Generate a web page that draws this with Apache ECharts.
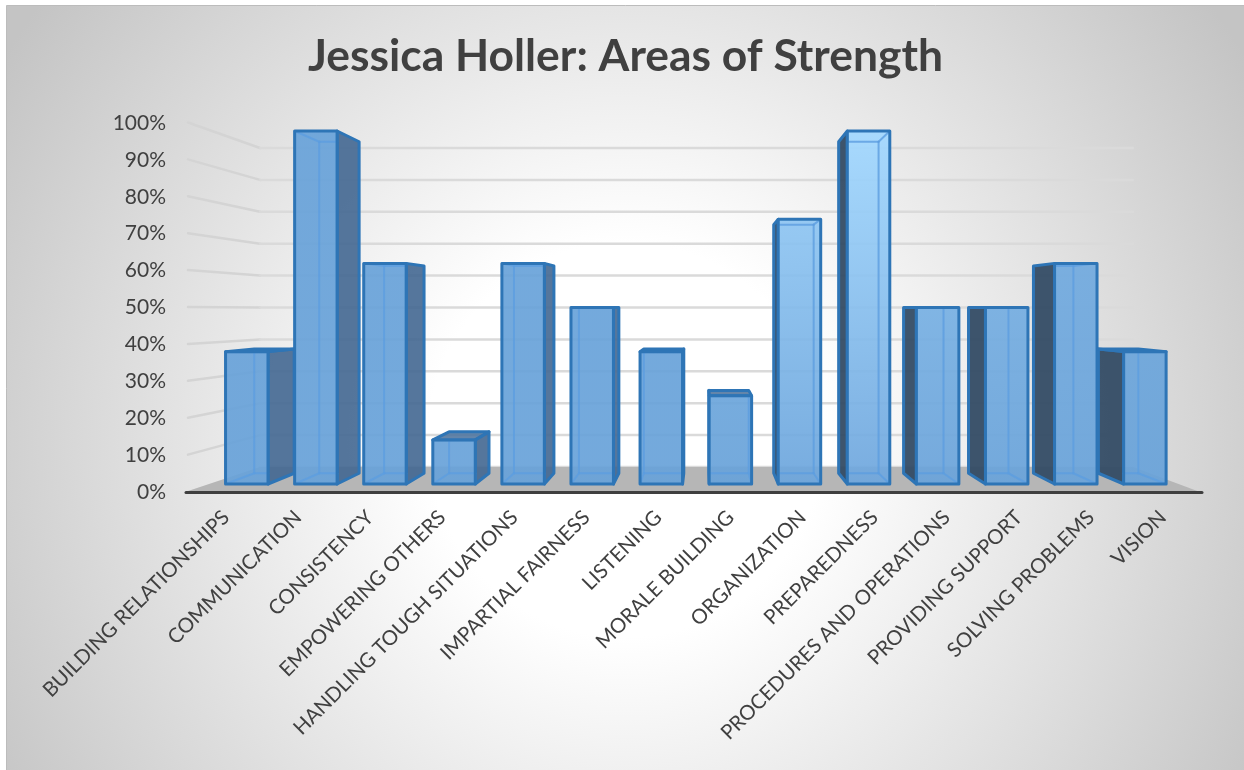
<!DOCTYPE html>
<html>
<head>
<meta charset="utf-8">
<style>html,body{margin:0;padding:0;background:#fff}#c{width:1244px;height:770px}</style>
<script src="https://cdn.jsdelivr.net/npm/echarts@6/dist/echarts.min.js"></script>
</head>
<body>
<div id="c"></div>
<script>
var categories = ['BUILDING RELATIONSHIPS','COMMUNICATION','CONSISTENCY','EMPOWERING OTHERS','HANDLING TOUGH SITUATIONS','IMPARTIAL FAIRNESS','LISTENING','MORALE BUILDING','ORGANIZATION','PREPAREDNESS','PROCEDURES AND OPERATIONS','PROVIDING SUPPORT','SOLVING PROBLEMS','VISION'];
var strengthValues = [37.5,100,62.5,12.5,62.5,50,37.5,25,75,100,50,50,62.5,37.5];
var tickValues = [0,10,20,30,40,50,60,70,80,90,100];

// Styling only: how strongly the light catches each bar's front face
var barGloss = [0,0,0,0,0,0,0,0.05,0.65,1,0.25,0.2,0.15,0.05];

var FONT = 'Lato, "Open Sans", sans-serif';
var GRID = {left:190, width:1009, top:123, height:369};
var bottom = GRID.top + GRID.height;

// Perspective: t = 0 is the front plane, t = 1 the back wall
function depthY(py, t){ return bottom - 25*t - (bottom - py)*(1 - 50*t/369); }
function planeL(t){ return 190.3 + 68.6*t; }
function planeR(t){ return 1200.7 - 66.5*t; }
function depthX(u, t){ return planeL(t) + u*(planeR(t)-planeL(t)); }
function line(a,b,color,w){ return {type:'line',shape:{x1:a[0],y1:a[1],x2:b[0],y2:b[1]},style:{stroke:color,lineWidth:w,lineCap:'round'},silent:true}; }
function poly(pts,fill,stroke,w){ return {type:'polygon',shape:{points:pts},style:{fill:fill,stroke:stroke||null,lineWidth:w||0,lineJoin:'round'},silent:true}; }

function renderWall(params, api){
  var py = api.coord([0, api.value(1)])[1];
  var yFront = py, yBack = depthY(py,1);
  var kids = [];
  if(params.dataIndex === 0){
    kids.push(line([260,yBack],[1133,yBack],'#dadada',2.5));
    kids.push(poly([[185,bottom],[260,depthY(bottom,1)],[1133,depthY(bottom,1)],[1200,bottom]],'#b6b6b6'));
    kids.push(line([186,bottom+0.5],[1202,bottom+0.5],'#3f3f3f',3));
  } else {
    kids.push(line([188,yFront-0.5],[260,yBack],'#d4d4d4',2.5));
    kids.push(line([260,yBack],[1133,yBack],'#dadada',2.5));
  }
  return {type:'group',children:kids};
}

function renderBar(params, api){
  var i = api.value(0), v = api.value(1);
  var cx = api.coord([i,v])[0], pyTop = api.coord([i,v])[1];
  var u = (cx-GRID.left)/GRID.width;
  var hw = api.size([1,0])[0]/GRID.width;
  var half = 0.3075*hw;
  var T0=0.32, T1=0.75;
  var fl=depthX(u-half,T0), fr=depthX(u+half,T0), bl=depthX(u-half,T1), br=depthX(u+half,T1);
  var ft=depthY(pyTop,T0), fb=depthY(bottom,T0), bt=depthY(pyTop,T1), bb=depthY(bottom,T1);
  var edge='#2e75b6', inner='rgba(92,158,224,0.8)', kids=[];
  var g = barGloss[i];
  var topCol = 'rgba('+Math.round(104+58*g)+','+Math.round(162+54*g)+','+Math.round(217+38*g)+',0.92)';
  var botCol = 'rgba('+Math.round(104+6*g)+','+Math.round(162+4*g)+','+Math.round(217+4*g)+',0.92)';
  var frontFill = new echarts.graphic.LinearGradient(0,0,0,1,[{offset:0,color:topCol},{offset:1,color:botCol}]);
  var sideRight = br > fr+0.3, sideLeft = bl < fl-0.3;
  var sideR = 'rgba(66,103,145,0.9)', sideL = 'rgba(50,74,100,0.94)';

  // Outer faces that face the viewer
  if(sideRight) kids.push(poly([[fr,ft],[br,bt],[br,bb],[fr,fb]],sideR,edge,3));
  if(sideLeft)  kids.push(poly([[fl,ft],[bl,bt],[bl,bb],[fl,fb]],sideL,edge,3));
  if(bt < ft)   kids.push(poly([[fl,ft],[bl,bt],[br,bt],[fr,ft]],'rgba(72,112,155,0.85)',edge,3));

  // Front face
  kids.push(poly([[fl,ft],[fr,ft],[fr,fb],[fl,fb]],frontFill,null,0));

  // Back edges seen through the translucent front
  var il=Math.max(fl,bl), ir=Math.min(fr,br);
  if(bl>fl+0.3) kids.push(line([bl,Math.max(bt,ft)],[bl,bb],inner,2));
  if(br<fr-0.3) kids.push(line([br,Math.max(bt,ft)],[br,bb],inner,2));
  if(bt>ft) kids.push(line([il,bt],[ir,bt],inner,2));
  kids.push(line([il,bb],[ir,bb],inner,2));
  kids.push(line([fl,fb],[il,bb],inner,2));
  kids.push(line([fr,fb],[ir,bb],inner,2));
  if(bt>ft){ kids.push(line([fl,ft],[il,bt],inner,2)); kids.push(line([fr,ft],[ir,bt],inner,2)); }

  // Front outline
  kids.push(poly([[fl,ft],[fr,ft],[fr,fb],[fl,fb]],'rgba(0,0,0,0)',edge,3));
  return {type:'group',children:kids};
}

var chart = echarts.init(document.getElementById('c'),null,{renderer:'canvas'});
chart.setOption({
  animation:false,
  backgroundColor:'#ffffff',
  graphic:{elements:[{
    type:'rect', z:-10, silent:true,
    shape:{x:6.5,y:5.5,width:1240,height:766},
    style:{fill:new echarts.graphic.RadialGradient(625,440,730,[{offset:0,color:'#ffffff'},{offset:0.27,color:'#ffffff'},{offset:1,color:'#c4c4c4'}],true),stroke:'#bcbcbc',lineWidth:1}
  }]},
  title:{text:'Jessica Holler: Areas of Strength',left:620.5,textAlign:'center',top:30,textStyle:{fontFamily:FONT,fontWeight:'bold',fontSize:44.4,color:'#404040'}},
  grid:{left:GRID.left,top:GRID.top,width:GRID.width,height:GRID.height,containLabel:false},
  xAxis:{type:'category',data:categories,axisLine:{show:false},axisTick:{show:false},splitLine:{show:false},
    axisLabel:{interval:0,rotate:45,margin:22,fontFamily:FONT,fontSize:20.4,color:'#404040'}},
  yAxis:{type:'value',min:0,max:100,interval:10,axisLine:{show:false},axisTick:{show:false},splitLine:{show:false},
    axisLabel:{margin:24,fontFamily:FONT,fontSize:21,color:'#404040',padding:[3,0,0,0],formatter:'{value}%'}},
  series:[
    {type:'custom',z:1,silent:true,clip:false,renderItem:renderWall,encode:{x:0,y:1},
     data:tickValues.map(function(t){return [0,t];})},
    {type:'custom',z:2,silent:true,clip:false,renderItem:renderBar,encode:{x:0,y:1},
     data:strengthValues.map(function(v,i){return [i,v];})}
  ]
});
</script>
</body>
</html>
